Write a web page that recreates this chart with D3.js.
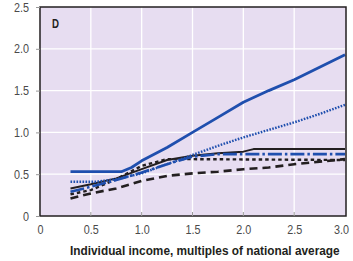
<!DOCTYPE html>
<html><head><meta charset="utf-8">
<script src="https://cdn.jsdelivr.net/npm/d3@7"></script>
<style>body{margin:0;background:#fff}svg{display:block}</style>
</head><body>
<svg id="c" width="353" height="261"></svg>
<script>
const panelLabel = "D";
const xTicks = [0, 0.5, 1.0, 1.5, 2.0, 2.5, 3.0];
const yTicks = [0, 0.5, 1.0, 1.5, 2.0, 2.5];
const xTitle = "Individual income, multiples of national average";

const blueSolidX = [0.3, 0.5, 0.8, 0.9, 1.0, 1.25, 1.5, 1.75, 2.0, 2.25, 2.5, 2.75, 3.0];
const blueSolidY = [0.53, 0.53, 0.53, 0.58, 0.66, 0.82, 1.0, 1.18, 1.36, 1.5, 1.63, 1.78, 1.93];
const blueDotX = [0.3, 0.55, 0.75, 1.0, 1.25, 1.5, 1.75, 2.0, 2.25, 2.5, 2.75, 3.0];
const blueDotY = [0.41, 0.41, 0.44, 0.51, 0.62, 0.73, 0.84, 0.94, 1.03, 1.12, 1.22, 1.33];
const blackSolidX = [0.3, 0.5, 0.75, 1.0, 1.25, 1.5, 1.75, 2.0, 2.1, 3.0];
const blackSolidY = [0.33, 0.38, 0.45, 0.56, 0.67, 0.72, 0.75, 0.77, 0.8, 0.8];
const blueDashDotX = [0.3, 0.5, 0.75, 1.0, 1.25, 1.5, 1.75, 3.0];
const blueDashDotY = [0.29, 0.35, 0.43, 0.52, 0.62, 0.71, 0.74, 0.74];
const blackShortX = [0.3, 0.5, 0.75, 1.0, 1.25, 1.5, 3.0];
const blackShortY = [0.26, 0.31, 0.44, 0.6, 0.68, 0.68, 0.67];
const blackLongX = [0.3, 0.5, 0.75, 1.0, 1.25, 1.5, 1.75, 2.0, 2.25, 2.5, 2.75, 3.0];
const blackLongY = [0.21, 0.27, 0.33, 0.42, 0.48, 0.51, 0.53, 0.56, 0.58, 0.62, 0.65, 0.68];

const series = [
  {xs: blackLongX, ys: blackLongY, color: "#231f20", width: 2.6, dash: "8,5"},
  {xs: blackShortX, ys: blackShortY, color: "#231f20", width: 2.4, dash: "3.5,3"},
  {xs: blackSolidX, ys: blackSolidY, color: "#231f20", width: 2, dash: null},
  {xs: blueDashDotX, ys: blueDashDotY, color: "#1f4fae", width: 2.6, dash: "14,3,2.5,3"},
  {xs: blueDotX, ys: blueDotY, color: "#1f4fae", width: 2.4, dash: "1.6,1.4"},
  {xs: blueSolidX, ys: blueSolidY, color: "#1f4fae", width: 2.8, dash: null}
];

const svg = d3.select("#c");
const L = 40, R = 346, T = 7, B = 216;
const x = d3.scaleLinear().domain([0, 3]).range([L, R - 1]);
const y = d3.scaleLinear().domain([0, 2.5]).range([B, T]);

svg.append("rect").attr("x", L).attr("y", T).attr("width", R - L).attr("height", B - T).attr("fill", "#e7ddf1");

const g = svg.append("g");
g.selectAll(".hg").data(yTicks.filter(d => d > 0 && d < 2.5)).join("line")
  .attr("x1", L).attr("x2", R).attr("y1", d => y(d)).attr("y2", d => y(d))
  .attr("stroke", "#fff").attr("stroke-width", 1.3);
g.selectAll(".vg").data(xTicks.filter(d => d > 0 && d < 3)).join("line")
  .attr("y1", T).attr("y2", B).attr("x1", d => x(d)).attr("x2", d => x(d))
  .attr("stroke", "#fff").attr("stroke-width", 1.3);

const line = d3.line().x(d => x(d[0])).y(d => y(d[1]));
series.forEach(s => {
  const pts = s.xs.map((v, i) => [v, s.ys[i]]);
  svg.append("path").attr("d", line(pts)).attr("fill", "none")
    .attr("stroke", s.color).attr("stroke-width", s.width)
    .attr("stroke-dasharray", s.dash).attr("stroke-linejoin", "round");
});

// frame
svg.append("rect").attr("x", L).attr("y", T).attr("width", R - L).attr("height", B - T)
  .attr("fill", "none").attr("stroke", "#231f20").attr("stroke-width", 1.5);

const font = "'Liberation Sans', Arial, sans-serif";
const fmt = d => d === 0 ? "0" : d3.format(".1f")(d);

// x axis
const xa = svg.append("g").attr("transform", `translate(0,${B})`)
  .call(d3.axisBottom(x).tickValues(xTicks).tickFormat(fmt).tickSize(0).tickPadding(9));
xa.select(".domain").remove();
xa.selectAll("text").attr("font-family", font).attr("font-size", 13).attr("fill", "#4a4a4a")
  .attr("textLength", d => d === 0 ? 6 : 15).attr("lengthAdjust", "spacingAndGlyphs")
  .attr("x", d => d === 3 ? -4 : 0);
svg.selectAll(".xt").data(xTicks.filter(d => d > 0 && d < 3)).join("line")
  .attr("x1", d => x(d)).attr("x2", d => x(d)).attr("y1", B - 4).attr("y2", B)
  .attr("stroke", "#999").attr("stroke-width", 1);

// y axis
const ya = svg.append("g").attr("transform", `translate(${L},0)`)
  .call(d3.axisLeft(y).tickValues(yTicks).tickFormat(fmt).tickSize(4).tickPadding(7));
ya.select(".domain").remove();
ya.selectAll("line").attr("stroke", "#999");
ya.selectAll("text").attr("font-family", font).attr("font-size", 13).attr("fill", "#4a4a4a")
  .attr("textLength", d => d === 0 ? 6 : 15).attr("lengthAdjust", "spacingAndGlyphs");

svg.append("text").attr("x", 52).attr("y", 28).text(panelLabel)
  .attr("font-family", font).attr("font-weight", "bold").attr("font-size", 12).attr("fill", "#231f20")
  .attr("textLength", 7).attr("lengthAdjust", "spacingAndGlyphs");

const title = svg.append("text").attr("x", 0).attr("y", 0).text(xTitle)
  .attr("font-family", font).attr("font-weight", "bold").attr("font-size", 13.5).attr("fill", "#231f20");
const natural = title.node().getComputedTextLength();
title.attr("transform", `translate(70,255) scale(${270 / natural},1)`);
</script>
</body></html>
